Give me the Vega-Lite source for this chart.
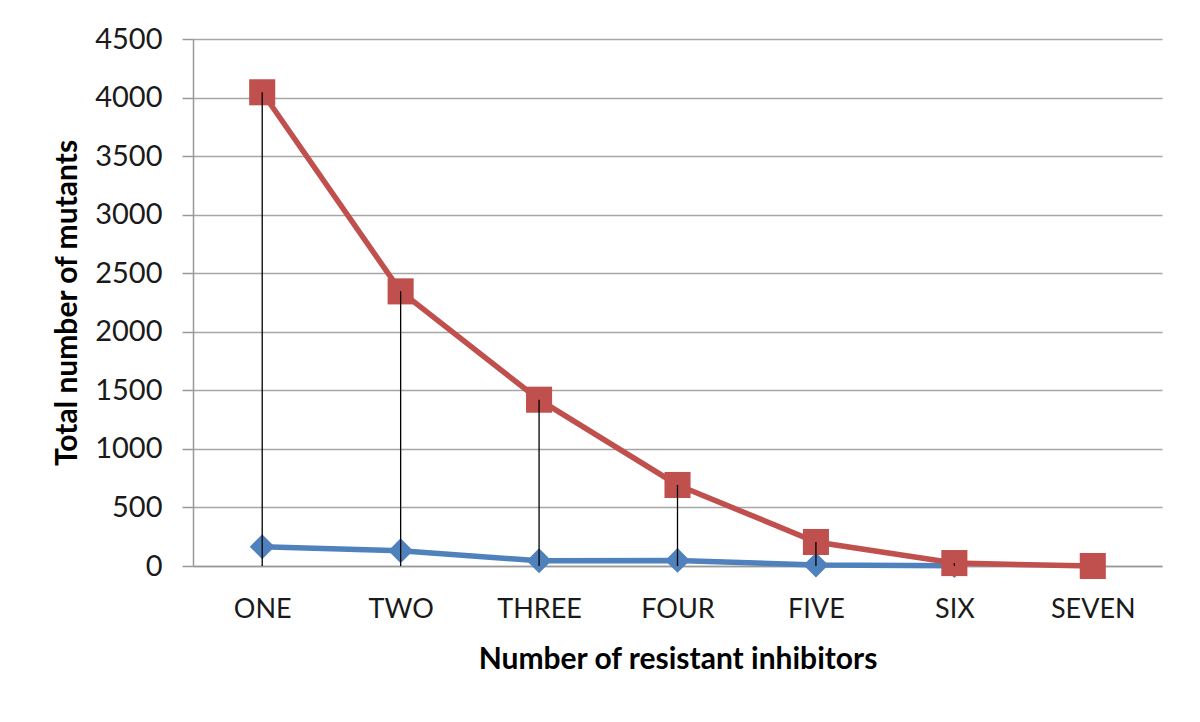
{
  "$schema": "https://vega.github.io/schema/vega-lite/v6.json",
  "width": 969,
  "height": 527,
  "autosize": {"type": "none"},
  "padding": {"left": 193, "top": 39, "right": 38, "bottom": 156},
  "background": "white",
  "config": {"view": {"stroke": null}, "font": "Lato"},
  "data": {
    "values": [
      {"inhibitors": "ONE", "series": "B", "mutants": 165},
      {"inhibitors": "TWO", "series": "B", "mutants": 130},
      {"inhibitors": "THREE", "series": "B", "mutants": 45},
      {"inhibitors": "FOUR", "series": "B", "mutants": 48},
      {"inhibitors": "FIVE", "series": "B", "mutants": 8},
      {"inhibitors": "SIX", "series": "B", "mutants": 3},
      {"inhibitors": "ONE", "series": "R", "mutants": 4045},
      {"inhibitors": "TWO", "series": "R", "mutants": 2345},
      {"inhibitors": "THREE", "series": "R", "mutants": 1420},
      {"inhibitors": "FOUR", "series": "R", "mutants": 692},
      {"inhibitors": "FIVE", "series": "R", "mutants": 205},
      {"inhibitors": "SIX", "series": "R", "mutants": 25},
      {"inhibitors": "SEVEN", "series": "R", "mutants": 0}
    ]
  },
  "encoding": {
    "x": {
      "field": "inhibitors",
      "type": "ordinal",
      "sort": ["ONE", "TWO", "THREE", "FOUR", "FIVE", "SIX", "SEVEN"],
      "scale": {"type": "point", "padding": 0.5},
      "axis": {
        "title": "Number of resistant inhibitors",
        "titleFontWeight": "bold",
        "titleFontSize": 30,
        "titleColor": "#000000",
        "titlePadding": 22,
        "labelFontSize": 27,
        "labelColor": "#1a1a1a",
        "labelAngle": 0,
        "labelPadding": 30,
        "ticks": false,
        "tickSize": 0,
        "grid": false,
        "domainColor": "#999999",
        "domainWidth": 1.5
      }
    },
    "y": {
      "field": "mutants",
      "type": "quantitative",
      "scale": {"domain": [0, 4500], "nice": false},
      "axis": {
        "title": "Total number of mutants",
        "titleFontWeight": "bold",
        "titleFontSize": 30,
        "titleColor": "#000000",
        "titlePadding": 12,
        "values": [0, 500, 1000, 1500, 2000, 2500, 3000, 3500, 4000, 4500],
        "format": "d",
        "labelFontSize": 29,
        "labelColor": "#1a1a1a",
        "labelPadding": 20,
        "tickSize": 11,
        "tickColor": "#999999",
        "tickWidth": 1.5,
        "gridColor": "#a6a6a6",
        "gridWidth": 1.5,
        "domainColor": "#999999",
        "domainWidth": 1.5
      }
    }
  },
  "layer": [
    {
      "mark": {"type": "line", "strokeWidth": 5.5},
      "encoding": {
        "color": {
          "field": "series",
          "type": "nominal",
          "scale": {"domain": ["B", "R"], "range": ["#4F81BD", "#C0504D"]},
          "legend": null
        }
      }
    },
    {
      "mark": {"type": "point", "filled": true, "opacity": 1},
      "encoding": {
        "color": {
          "field": "series",
          "type": "nominal",
          "scale": {"domain": ["B", "R"], "range": ["#4F81BD", "#C0504D"]},
          "legend": null
        },
        "shape": {
          "field": "series",
          "type": "nominal",
          "scale": {"domain": ["B", "R"], "range": ["diamond", "square"]},
          "legend": null
        },
        "size": {
          "field": "series",
          "type": "nominal",
          "scale": {"domain": ["B", "R"], "range": [620, 680]},
          "legend": null
        }
      }
    },
    {
      "transform": [{"filter": "datum.series === 'R'"}],
      "mark": {"type": "rule", "color": "#000000", "strokeWidth": 1.3},
      "encoding": {
        "y2": {"datum": 0}
      }
    }
  ]
}
